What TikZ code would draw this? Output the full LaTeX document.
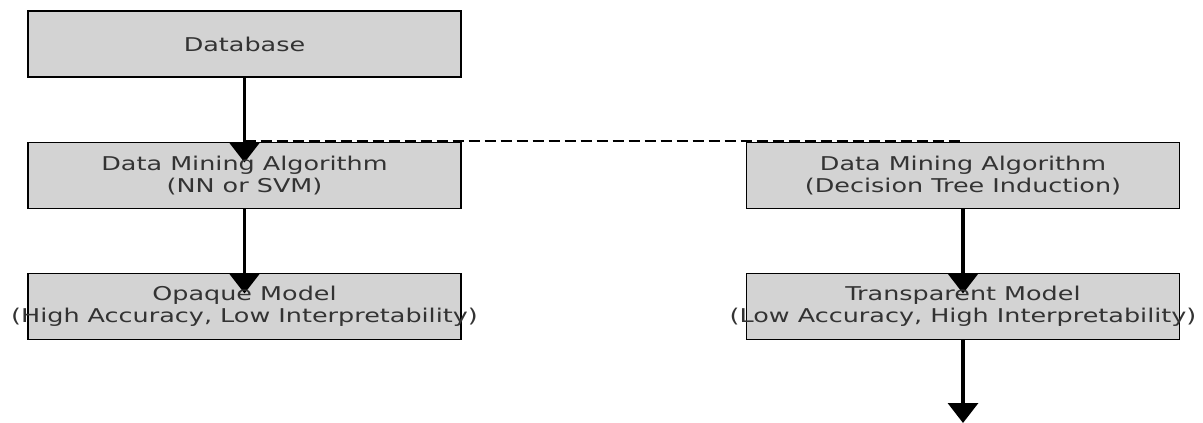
\documentclass[tikz,border=0pt]{standalone}
\usepackage{fontspec}
\setmainfont{DejaVu Sans}[FakeStretch=1.34]
\usetikzlibrary{arrows.meta,calc}
\definecolor{boxfill}{HTML}{D3D3D3}
\definecolor{txt}{HTML}{333333}
\begin{document}
\begin{tikzpicture}[x=1pt,y=-1pt,
  box/.style={draw=black,line width=1.8pt,fill=boxfill,minimum width=433pt,minimum height=66pt,inner sep=0pt,outer sep=0pt},
  lbl/.style={text=txt,font=\fontsize{19}{21.5}\selectfont,align=center,inner sep=0pt},
  flow/.style={line width=3.5pt,-{Triangle[width=30pt,length=20pt]}},
  link/.style={line width=2pt,dash pattern=on 11pt off 5pt}]
\useasboundingbox (0,0) rectangle (1203,423);
\node[box] (db) at (244.5,44) {};
\node[box] (dmaL) at (244.5,175.5) {};
\node[box] (opq) at (244.5,306.5) {};
\node[box] (dmaR) at (963,175.5) {};
\node[box] (trans) at (963,306.5) {};
\coordinate (out) at (963,423);
\draw[link] ($(dmaL.north)+(0,-1.2)$) -- ($(dmaR.north)+(0,-1.2)$);
\draw[flow] (db.south) -- ($(dmaL.north)+(0,20)$);
\draw[flow] (dmaL.south) -- ($(opq.north)+(0,20)$);
\draw[flow] (dmaR.south) -- ($(trans.north)+(0,20)$);
\draw[flow] (trans.south) -- (out);
\node[lbl] (tdb) at (db.center) {Database};
\node[lbl] (tdmaL) at (dmaL.center) {Data Mining Algorithm\\(NN or SVM)};
\node[lbl] (topq) at (opq.center) {Opaque Model\\(High Accuracy, Low Interpretability)};
\node[lbl] (tdmaR) at (dmaR.center) {Data Mining Algorithm\\(Decision Tree Induction)};
\node[lbl] (ttrans) at (trans.center) {Transparent Model\\(Low Accuracy, High Interpretability)};
\end{tikzpicture}
\end{document}
